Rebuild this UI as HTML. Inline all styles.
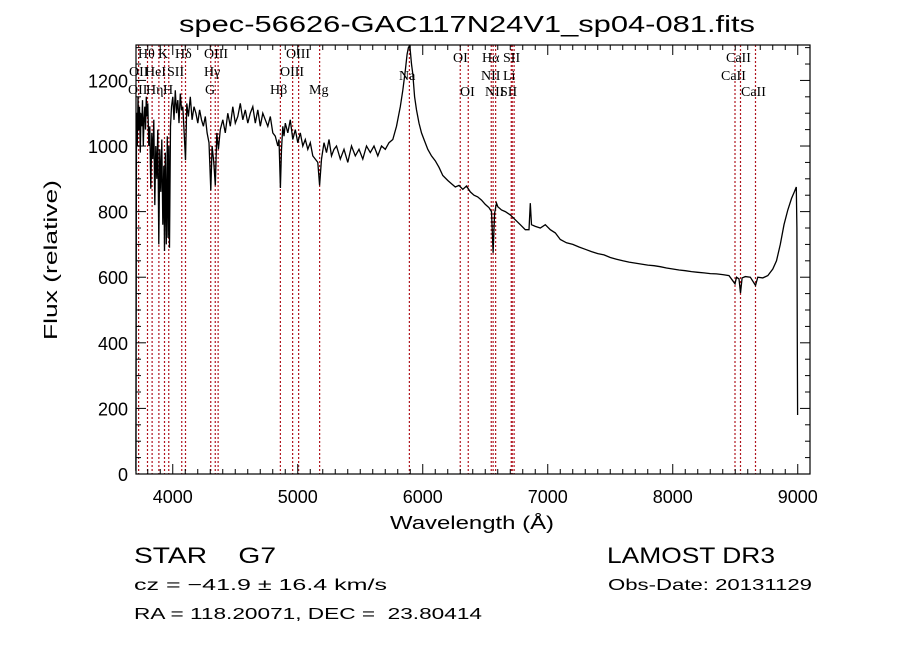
<!DOCTYPE html>
<html><head><meta charset="utf-8"><style>
html,body{margin:0;padding:0;background:#fff;}
svg{display:block;}
text{white-space:pre;}
.t{font-family:"Liberation Sans",sans-serif;fill:#000;}
.s{font-family:"Liberation Serif",serif;fill:#000;font-size:14px;}
</style></head><body>
<svg id="c" width="900" height="649" viewBox="0 0 900 649" xmlns="http://www.w3.org/2000/svg" xml:space="preserve">
<text class="t" x="467" y="32" font-size="23" text-anchor="middle" textLength="576" lengthAdjust="spacingAndGlyphs">spec-56626-GAC117N24V1_sp04-081.fits</text>
<text class="t" x="472" y="529" font-size="18" text-anchor="middle" textLength="164" lengthAdjust="spacingAndGlyphs">Wavelength (Å)</text>
<text class="t" transform="translate(57,260) rotate(-90)" font-size="18" text-anchor="middle" textLength="160" lengthAdjust="spacingAndGlyphs">Flux (relative)</text>
<text class="t" x="134" y="563" font-size="22" textLength="142" lengthAdjust="spacingAndGlyphs">STAR    G7</text>
<text class="t" x="607" y="563" font-size="22" textLength="168" lengthAdjust="spacingAndGlyphs">LAMOST DR3</text>
<text class="t" x="134" y="590" font-size="16" textLength="253" lengthAdjust="spacingAndGlyphs">cz = −41.9 ± 16.4 km/s</text>
<text class="t" x="608" y="590" font-size="16" textLength="204" lengthAdjust="spacingAndGlyphs">Obs-Date: 20131129</text>
<text class="t" x="134" y="619" font-size="16" textLength="348" lengthAdjust="spacingAndGlyphs">RA = 118.20071, DEC =  23.80414</text>
<g id="plot"></g>
</svg>
<script>
const xTicks=[4000,5000,6000,7000,8000,9000];
const yTicks=[0,200,400,600,800,1000,1200];
const lineWaves=[3727,3798,3835,3889,3934,3968,4072,4102,4304,4340,4363,4861,4959,5007,5175,5893,6300,6364,6548,6563,6583,6708,6716,6731,8498,8542,8662];
const lineLabels=[
["Hθ",138,58],["K",158,58],["Hδ",175,58],["OIII",204,58],["OIII",286,58],
["OII",129,76],["HeI",145,76],["SII",167,76],["Hγ",204,76],["OIII",280,76],
["OII",128,94],["Hη",146,94],["H",163,94],["G",205,94],["Hβ",270,94],["Mg",309,94],
["OI",453,62],["Hα",482,62],["SII",503,62],["CaII",726,62],
["Na",399,80],["NII",481,80],["Li",503,80],["CaII",721,80],
["OI",460,96],["NII",485,96],["SII",500,96],["CaII",741,96]];
const waves=[
3705,3710,3716,3722,3728,3734,3740,3746,3752,3758,
3764,3770,3776,3782,3788,3794,3800,3808,3816,3824,
3832,3840,3848,3856,3864,3872,3880,3888,3896,3904,
3912,3920,3928,3934,3940,3948,3956,3962,3968,3974,
3982,3990,4000,4010,4020,4030,4040,4050,4060,4070,
4080,4090,4102,4112,4125,4140,4155,4170,4185,4200,
4215,4230,4245,4260,4275,4290,4304,4315,4328,4340,
4352,4365,4380,4400,4420,4440,4460,4480,4500,4520,
4540,4560,4580,4600,4620,4640,4660,4680,4700,4720,
4740,4760,4780,4800,4820,4840,4850,4861,4870,4880,
4890,4900,4920,4940,4960,4980,5000,5020,5040,5060,
5080,5100,5120,5140,5160,5175,5190,5210,5230,5250,
5270,5290,5310,5340,5370,5400,5430,5460,5490,5520,
5550,5580,5610,5640,5670,5700,5730,5760,5790,5820,
5840,5860,5875,5885,5893,5900,5910,5920,5935,5950,
5970,5990,6010,6040,6070,6100,6130,6160,6200,6230,
6260,6290,6320,6350,6380,6410,6440,6470,6500,6530,
6550,6563,6575,6590,6600,6630,6660,6700,6740,6780,
6820,6850,6860,6870,6900,6940,6980,7020,7060,7100,
7150,7200,7250,7300,7350,7400,7450,7500,7550,7600,
7650,7700,7750,7800,7850,7900,7950,8000,8050,8100,
8150,8200,8250,8300,8350,8400,8450,8498,8510,8530,
8542,8555,8580,8620,8662,8680,8720,8760,8800,8830,
8860,8890,8920,8950,8975,8988,8993,8996,8999];
const flux=[
10,1100,1000,1150,1050,1120,980,1100,1060,1140,
1000,1080,1120,1050,1150,1090,1130,1000,1060,870,
1040,960,1080,820,1000,900,1050,700,990,860,
1020,760,940,680,980,700,1030,720,1000,690,
1060,1120,1150,1080,1170,1100,1140,1070,1160,1110,
1120,1050,957,1130,1090,1150,1080,1120,1100,1070,
1110,1080,1060,1090,1040,1010,865,1000,950,880,
1040,990,1050,1080,1040,1100,1060,1120,1070,1090,
1130,1080,1110,1070,1100,1120,1070,1110,1060,1100,
1080,1060,1090,1040,1030,1000,1020,872,990,1060,
1030,1070,1040,1080,1020,1050,1010,1040,1000,1020,
990,1010,970,960,950,880,960,1010,980,1020,
970,990,1000,960,990,950,1000,970,990,960,
1000,980,1000,970,1000,990,1010,1020,1060,1120,
1170,1230,1280,1300,1305,1290,1250,1220,1150,1110,
1070,1040,1020,990,970,955,935,910,895,885,
875,880,868,878,860,850,845,835,822,812,
800,674,795,826,815,805,800,790,775,760,
745,745,826,760,755,750,760,745,735,715,
705,700,692,685,678,672,668,660,655,650,
646,643,640,637,635,632,628,625,622,620,
617,615,613,611,610,608,605,580,600,595,
552,598,602,600,575,600,598,605,625,650,
700,760,805,840,862,875,750,400,180];
const X0=3706,X1=9098,PX0=136,PX1=810,PY0=45,PY1=474,Y0=0,Y1=1308;
const xs=w=>PX0+(w-X0)/(X1-X0)*(PX1-PX0);
const ys=f=>PY1-(f-Y0)/(Y1-Y0)*(PY1-PY0);
const NS='http://www.w3.org/2000/svg';
const g=document.getElementById('plot');
function mk(tag,attrs){const e=document.createElementNS(NS,tag);for(const k in attrs)e.setAttribute(k,attrs[k]);g.appendChild(e);return e;}
lineWaves.forEach(w=>{
 const e=mk('line',{x1:xs(w),x2:xs(w),y1:PY0,y2:PY1,stroke:'#b0141e','stroke-width':1.2,'stroke-dasharray':'2,2'});
 
 
});
lineLabels.forEach(l=>{
 const e=mk('text',{x:l[1],y:l[2],class:'s'});e.textContent=l[0];
 
 
});
const n=Math.min(waves.length,flux.length);
let d='';for(let i=0;i<n;i++){d+=(i?'L':'M')+xs(waves[i]).toFixed(1)+','+ys(flux[i]).toFixed(1);}
const sp=mk('path',{d:d,fill:'none',stroke:'#000','stroke-width':1.3});


const fr=mk('rect',{x:PX0,y:PY0,width:PX1-PX0,height:PY1-PY0,fill:'none',stroke:'#000','stroke-width':1.2});


for(let w=3800;w<=9000;w+=100){
 const major=w%1000===0,L=major?10:5,x=xs(w);
 const t1=mk('line',{x1:x,x2:x,y1:PY1,y2:PY1-L,stroke:'#000'});
 
 
 const t2=mk('line',{x1:x,x2:x,y1:PY0,y2:PY0+L,stroke:'#000'});
 
 
}
xTicks.forEach(w=>{
 const e=mk('text',{x:xs(w),y:503,class:'t','font-size':18,'text-anchor':'middle'});e.textContent=w;
 
 
});
for(let f=0;f<=1300;f+=50){
 const major=f%200===0,L=major?10:5,y=ys(f);
 const t1=mk('line',{x1:PX0,x2:PX0+L,y1:y,y2:y,stroke:'#000'});
 
 
 const t2=mk('line',{x1:PX1,x2:PX1-L,y1:y,y2:y,stroke:'#000'});
 
 
}
yTicks.forEach(f=>{
 const e=mk('text',{x:128,y:ys(f)+7,class:'t','font-size':18,'text-anchor':'end'});e.textContent=f;
 
 
});
</script>
</body></html>
